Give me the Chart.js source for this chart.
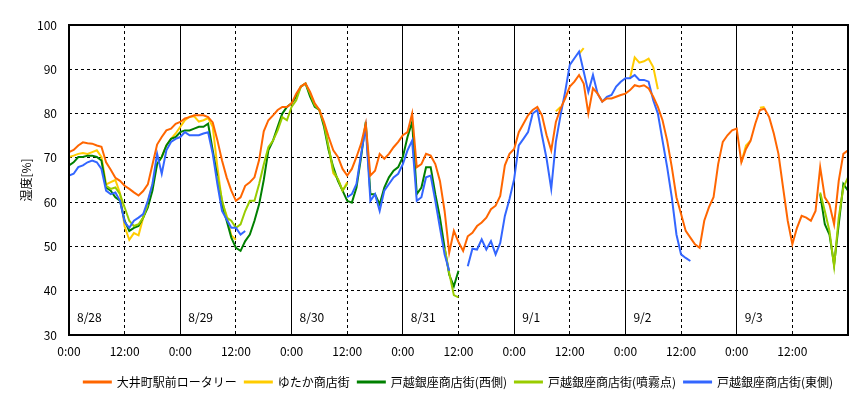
<!DOCTYPE html>
<html>
<head>
<meta charset="utf-8">
<script src="https://cdn.jsdelivr.net/npm/chart.js@4.4.1/dist/chart.umd.min.js"></script>
<style>
  html, body { margin: 0; padding: 0; background: #fff; }
</style>
</head>
<body>
<canvas id="humidityChart" width="865" height="398"></canvas>
<script>
// hours since 8/28 0:00 (hourly readings)
const hours = Array.from({ length: 169 }, (_, i) => i);
const dayLabels = ["8/28", "8/29", "8/30", "8/31", "9/1", "9/2", "9/3"];
const timeLabels = ["0:00", "12:00"];
const seriesNames = ["大井町駅前ロータリー", "ゆたか商店街", "戸越銀座商店街(西側)", "戸越銀座商店街(噴霧点)", "戸越銀座商店街(東側)"];
const n = null;

const ooimachi = [
  71.3, 71.8, 72.8, 73.5, 73.3, 73.2, 72.8, 72.5, 69.0, 67.3, 65.5, 64.8,
  63.7, 63.0, 62.2, 61.5, 62.5, 64.0, 68.5, 73.0, 74.7, 76.2, 76.6, 77.7,
  78.1, 78.9, 79.2, 79.6, 79.6, 79.6, 79.2, 78.0, 74.0, 69.4, 65.6, 62.6,
  60.3, 61.1, 63.7, 64.5, 65.6, 69.5, 76.0, 78.5, 79.6, 80.8, 81.5, 81.5,
  82.3, 84.5, 86.1, 86.8, 84.9, 82.3, 80.8, 78.1, 74.7, 71.7, 70.2, 67.5,
  66.0, 67.5, 70.2, 73.2, 77.7, 66.0, 67.1, 70.9, 69.8, 70.9, 72.4, 73.6,
  75.1, 75.8, 80.0, 67.9, 68.6, 70.9, 70.5, 68.6, 64.8, 58.0, 48.6, 53.5,
  51.0, 49.0, 52.3, 53.1, 54.6, 55.4, 56.5, 58.4, 59.2, 61.4, 68.3, 70.9,
  72.0, 75.8, 77.7, 79.6, 80.8, 81.5, 79.6, 75.1, 71.7, 78.1, 81.1, 83.4,
  86.1, 87.2, 88.7, 86.8, 80.0, 85.7, 84.5, 82.7, 83.4, 83.4, 83.8, 84.2,
  84.5, 85.3, 86.4, 86.1, 86.4, 85.7, 83.8, 81.5, 78.5, 73.9, 67.9, 61.1,
  57.3, 53.5, 52.0, 50.5, 49.7, 55.8, 58.8, 61.1, 68.6, 73.6, 75.1, 76.2,
  76.6, 69.0, 72.0, 73.9, 77.7, 80.8, 81.1, 79.2, 75.5, 70.9, 63.3, 55.8,
  50.5, 54.2, 56.9, 56.5, 55.8, 58.0, 67.9, 61.1, 59.5, 55.0, 64.8, 70.9,
  71.7
];

const yutaka = [
  70.2, 70.5, 70.9, 71.1, 70.9, 71.3, 71.7, 70.2, 64.0, 64.5, 65.0, 62.0,
  54.5, 51.5, 53.0, 52.5, 56.5, 60.0, 64.1, 68.6, 70.2, 72.8, 74.3, 75.5,
  77.0, 78.5, 79.3, 79.4, 78.2, 78.5, 79.0, 77.0, 68.0, 60.0, 57.0, 52.5,
  51.5, n, n, n, n, n, n, n, n, n, n, n,
  n, n, n, n, n, n, n, n, 72.4, 66.5, 65.2, 62.6,
  64.5, n, n, n, n, n, n, n, n, n, n, n,
  n, n, n, n, n, n, n, n, n, n, n, n,
  n, n, n, n, n, n, n, n, n, n, n, n,
  n, n, n, n, n, n, n, n, n, 80.5, 81.5, n,
  n, n, 93.5, 94.8, n, n, n, n, n, n, n, n,
  n, 88.0, 92.7, 91.5, 91.8, 92.4, 90.5, 85.5, n, n, n, n,
  n, n, n, n, n, n, n, n, n, n, n, n,
  n, 69.0, 72.8, 73.9, n, 81.3, 81.5, n, n, n, n, n,
  n, n, n, n, n, n, n, n, n, n, n, n,
  n
];

const togoshiWest = [
  68.3, 69.0, 70.2, 70.2, 70.5, 70.5, 70.2, 69.4, 63.3, 62.6, 61.1, 60.3,
  55.8, 53.5, 54.2, 54.6, 56.5, 58.8, 62.6, 68.6, 70.2, 72.8, 74.3, 74.7,
  75.8, 76.2, 76.2, 76.6, 77.0, 77.0, 77.7, 71.7, 65.6, 59.5, 55.8, 52.0,
  49.7, 49.0, 51.2, 52.7, 55.8, 59.5, 65.0, 71.7, 73.9, 77.0, 80.0, 81.5,
  82.3, 83.8, 86.1, 86.8, 83.8, 81.5, 80.8, 77.0, 71.7, 67.9, 64.8, 62.6,
  60.3, 59.9, 63.3, 70.2, 78.1, 61.8, 61.8, 59.5, 63.3, 65.6, 67.1, 67.9,
  70.2, 74.7, 78.1, 61.8, 63.3, 67.9, 67.9, 61.8, 56.5, 49.7, 43.6, 41.0,
  44.5, n, n, n, n, n, n, n, n, n, n, n,
  n, n, n, n, n, n, n, n, n, n, n, n,
  n, n, n, n, n, n, n, n, n, n, n, n,
  n, n, n, n, n, n, n, n, n, n, n, n,
  n, n, n, n, n, n, n, n, n, n, n, n,
  n, n, n, n, n, n, n, n, n, n, n, n,
  n, n, n, n, n, n, 61.8, 55.0, 52.7, 45.9, 55.0, 64.1,
  62.6
];

const togoshiMist = [
  n, n, n, n, n, n, n, n, 63.7, 63.0, 63.3, 61.8,
  58.8, 55.8, 54.6, 55.0, 56.5, 59.5, n, n, n, n, n, n,
  n, n, n, n, n, n, n, n, 66.0, 60.5, 56.5, 55.8,
  54.2, 55.0, 58.0, 60.3, 60.3, 64.1, 68.5, 72.4, 73.9, 76.2, 79.2, 78.5,
  81.5, 83.0, 86.1, 86.8, 84.5, 81.9, 80.8, 77.7, 72.4, 67.1, 65.2, 62.6,
  64.1, n, n, n, n, n, n, n, n, n, n, n,
  n, n, n, n, n, n, n, n, n, 49.7, 44.0, 39.0,
  38.5, n, n, n, n, n, n, n, n, n, n, n,
  n, n, n, n, n, n, n, n, n, n, n, n,
  n, n, n, n, n, n, n, n, n, n, n, n,
  n, n, n, n, n, n, n, n, n, n, n, n,
  n, n, n, n, n, n, n, n, n, n, n, n,
  n, n, n, n, n, n, n, n, n, n, n, n,
  n, n, n, n, n, n, 62.2, 58.0, 53.5, 45.5, 56.5, 63.3,
  65.6
];

const togoshiEast = [
  66.0, 66.4, 67.9, 68.3, 69.0, 69.4, 69.0, 67.5, 62.6, 61.8, 62.2, 60.3,
  55.5, 54.2, 55.8, 56.5, 57.3, 60.3, 64.1, 70.9, 66.4, 71.7, 73.6, 74.3,
  74.7, 75.8, 75.1, 75.1, 75.1, 75.5, 75.8, 70.9, 64.1, 58.0, 56.1, 54.2,
  54.2, 52.7, 53.5, n, n, n, n, n, n, n, n, n,
  n, n, n, n, n, n, n, n, n, n, n, n,
  61.1, 61.8, 64.1, 70.9, 77.0, 60.3, 61.8, 58.0, 62.6, 64.1, 65.6, 66.4,
  68.6, 71.7, 73.9, 60.3, 61.1, 65.6, 66.0, 60.3, 54.2, 48.2, 44.5, n,
  n, n, 45.5, 49.5, 49.3, 51.6, 49.3, 51.2, 48.2, 50.8, 56.9, 60.7,
  65.2, 72.8, 74.3, 75.8, 80.0, 80.8, 75.1, 69.8, 63.0, 73.6, 79.6, 84.9,
  91.0, 92.5, 94.0, 89.5, 84.9, 88.7, 84.5, 82.7, 83.8, 84.2, 86.1, 87.2,
  88.0, 88.0, 88.7, 87.6, 87.6, 87.2, 83.0, 80.0, 73.9, 67.9, 61.1, 52.7,
  48.2, 47.4, 46.7, n, n, n, n, n, n, n, n, n,
  n, n, n, n, n, n, n, n, n, n, n, n,
  n, n, n, n, n, n, n, n, n, n, n, n,
  n
];

const jpFont = "'Noto Sans CJK JP', 'DejaVu Sans', sans-serif";

// outer frame + date labels inside the plot; legend centred under the plot area
const framePlugin = {
  id: "frame",
  afterLayout(chart) {
    chart.legend.left = chart.chartArea.left;
    chart.legend.right = chart.chartArea.right;
  },
  afterDatasetsDraw(chart) {
    const { ctx, chartArea } = chart;
    const x = chart.scales.x;

    ctx.save();
    ctx.strokeStyle = "#000";
    ctx.lineWidth = 2;
    ctx.strokeRect(chartArea.left, chartArea.top, chartArea.right - chartArea.left, chartArea.bottom - chartArea.top);

    ctx.fillStyle = "#000";
    ctx.font = "12px " + jpFont;
    ctx.textAlign = "left";
    ctx.textBaseline = "middle";
    dayLabels.forEach((d, i) => {
      ctx.fillText(d, x.getPixelForValue(i * 24) + 8, chartArea.bottom - 18);
    });
    ctx.restore();
  }
};

function makeSet(label, data, color, order) {
  return {
    label: label,
    data: data,
    borderColor: color,
    backgroundColor: color,
    borderWidth: 2,
    pointRadius: 0,
    tension: 0,
    spanGaps: false,
    order: order
  };
}

const ctx = document.getElementById("humidityChart").getContext("2d");

const chart = new Chart(ctx, {
  type: "line",
  data: {
    labels: hours,
    datasets: [
      makeSet(seriesNames[0], ooimachi, "#FF6600", 0),
      makeSet(seriesNames[1], yutaka, "#FFCC00", 4),
      makeSet(seriesNames[2], togoshiWest, "#008000", 3),
      makeSet(seriesNames[3], togoshiMist, "#99CC00", 2),
      makeSet(seriesNames[4], togoshiEast, "#3366FF", 1)
    ]
  },
  options: {
    responsive: false,
    animation: false,
    devicePixelRatio: 1,
    layout: { padding: { left: 0, right: 17, top: 25, bottom: 0 } },
    plugins: {
      legend: {
        position: "bottom",
        labels: {
          boxWidth: 27,
          boxHeight: 1,
          padding: 8,
          color: "#000",
          font: { family: jpFont, size: 12 },
          sort: (a, b) => a.datasetIndex - b.datasetIndex
        }
      },
      tooltip: { enabled: false }
    },
    scales: {
      x: {
        type: "linear",
        min: 0,
        max: 168,
        ticks: {
          stepSize: 12,
          autoSkip: false,
          maxRotation: 0,
          padding: 9,
          color: "#000",
          font: { family: jpFont, size: 12 },
          callback: (v) => (v >= 168 ? "" : timeLabels[(v % 24) / 12])
        },
        grid: {
          color: (c) => (c.tick && c.tick.value % 24 === 0 ? "rgba(0,0,0,0)" : "#000"),
          lineWidth: 1,
          drawTicks: false
        },
        border: { display: false, dash: [3, 3] },
        afterFit: (s) => { s.height = 33; }
      },
      days: {
        type: "linear",
        axis: "x",
        position: "top",
        min: 0,
        max: 168,
        ticks: { stepSize: 24, display: false },
        grid: { color: "#000", lineWidth: 1, drawTicks: false },
        border: { display: false },
        afterFit: (s) => { s.height = 0; }
      },
      y: {
        min: 30,
        max: 100,
        ticks: {
          stepSize: 10,
          padding: 12,
          color: "#000",
          font: { family: jpFont, size: 12 }
        },
        grid: { color: "#000", lineWidth: 1, drawTicks: false },
        border: { display: false, dash: [3, 3] },
        title: {
          display: true,
          text: "湿度[%]",
          color: "#000",
          font: { family: jpFont, size: 12 },
          padding: { top: 19, bottom: 0 }
        },
        afterFit: (s) => { s.width = 69; }
      }
    }
  },
  plugins: [framePlugin]
});
</script>
</body>
</html>
